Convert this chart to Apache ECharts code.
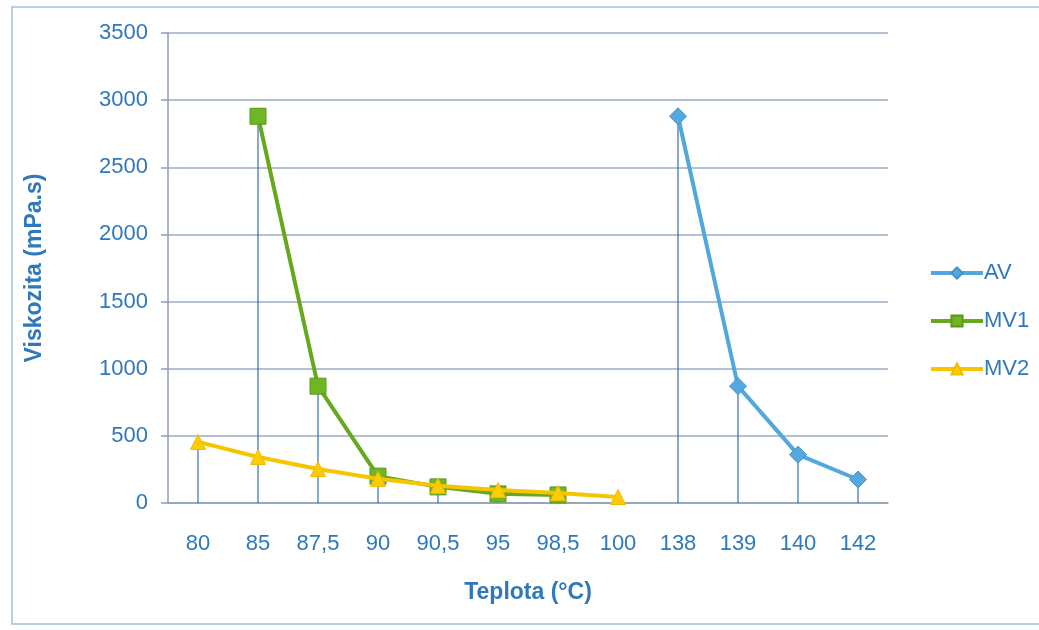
<!DOCTYPE html>
<html><head><meta charset="utf-8">
<script src="https://cdn.jsdelivr.net/npm/echarts@6/dist/echarts.min.js"></script>
<style>html,body{margin:0;padding:0;background:#fff}#c{width:1039px;height:630px}</style>
</head><body><div id="c"></div>
<script>
const categories = ['80','85','87,5','90','90,5','95','98,5','100','138','139','140','142'];
const yTicks = [0,500,1000,1500,2000,2500,3000,3500];
const AV  = [null,null,null,null,null,null,null,null,2880,870,360,175];
const MV1 = [null,2880,870,200,120,68,60,null,null,null,null,null];
const MV2 = [455,343,253,180,128,97,75,45,null,null,null,null];

const dropVals = categories.map((_, i) => Math.max(...[AV[i], MV1[i], MV2[i]].filter(v => v != null)));
const txt = '#2e78be';
const ff = 'Liberation Sans, Arial, sans-serif';
const chart = echarts.init(document.getElementById('c'));
chart.setOption({
  animation: false,
  textStyle: { fontFamily: ff },
  graphic: [{ type: 'rect', shape: { x: 12, y: 7, width: 1040, height: 617 }, style: { fill: 'none', stroke: '#a9bde0', lineWidth: 1.5 }, silent: true }],
  grid: { left: 168, right: 151, top: 33, bottom: 127 },
  legend: {
    orient: 'vertical', left: 924, top: 257, itemGap: 26, itemWidth: 52, itemHeight: 14,
    data: ['AV','MV1','MV2'],
    lineStyle: { width: 4 },
    textStyle: { color: txt, fontSize: 22, fontFamily: ff, padding: [0, 0, 0, -4] }
  },
  xAxis: {
    type: 'category', data: categories, boundaryGap: true,
    name: 'Teplota (°C)', nameLocation: 'middle', nameGap: 78,
    nameTextStyle: { color: txt, fontSize: 23, fontWeight: 'bold' },
    axisLine: { lineStyle: { color: '#8e9cb5', width: 1.5 } },
    axisTick: { show: false },
    axisLabel: { color: txt, fontSize: 22, margin: 30 },
    splitLine: { show: false }
  },
  yAxis: {
    type: 'value', min: yTicks[0], max: yTicks[yTicks.length - 1], interval: yTicks[1] - yTicks[0],
    name: 'Viskozita (mPa.s)', nameLocation: 'middle', nameGap: 122,
    nameTextStyle: { color: txt, fontSize: 23, fontWeight: 'bold' },
    axisLine: { show: true, lineStyle: { color: '#8e9cb5', width: 1.5 } },
    axisTick: { show: true, length: 7, lineStyle: { color: '#8e9cb5', width: 1.5 } },
    axisLabel: { color: txt, fontSize: 22, margin: 20, formatter: v => String(v) },
    splitLine: { lineStyle: { color: '#9aabc9', width: 1.5 } }
  },
  series: [
    {
      type: 'custom', name: 'drop', z: 1, silent: true,
      data: dropVals.map((v, i) => [i, v]),
      renderItem: function (params, api) {
        const p0 = api.coord([api.value(0), 0]);
        const p1 = api.coord([api.value(0), api.value(1)]);
        return { type: 'line', shape: { x1: p0[0], y1: p0[1], x2: p1[0], y2: p1[1] }, style: { stroke: '#2f6db3', lineWidth: 1.2 } };
      }
    },
    { name: 'AV', type: 'line', data: AV, z: 3, symbol: 'diamond', symbolSize: 17,
      lineStyle: { color: '#52a7de', width: 4 }, itemStyle: { color: '#55a9e0', borderColor: '#3f93cc', borderWidth: 1 } },
    { name: 'MV1', type: 'line', data: MV1, z: 3, symbol: 'rect', symbolSize: 16,
      lineStyle: { color: '#67a91e', width: 4 }, itemStyle: { color: '#6fb524', borderColor: '#5a9a18', borderWidth: 1 } },
    { name: 'MV2', type: 'line', data: MV2, z: 4, symbol: 'triangle', symbolSize: 15,
      lineStyle: { color: '#f7c500', width: 4 }, itemStyle: { color: '#ffcb05', borderColor: '#f0bc00', borderWidth: 1 } }
  ]
});
</script></body></html>
